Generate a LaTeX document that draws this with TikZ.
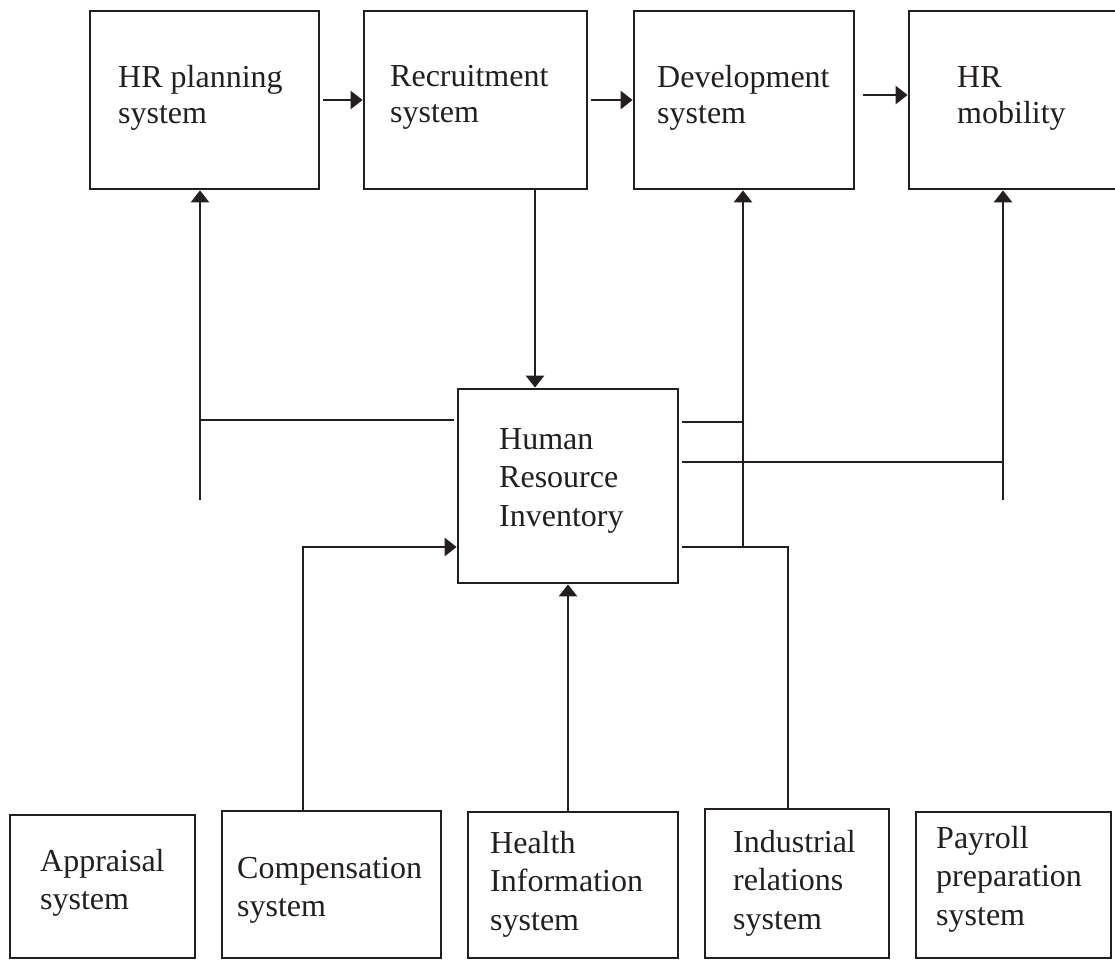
\documentclass[tikz,border=0pt]{standalone}
\usepackage{fontspec}
\setmainfont{Liberation Serif}
\usetikzlibrary{arrows.meta,calc}
\definecolor{ink}{RGB}{35,31,32}
\begin{document}
\begin{tikzpicture}[x=1pt,y=-1pt,
  box/.style={draw=ink, line width=2.8pt, inner sep=0pt},
  lbl/.style={anchor=north west, inner sep=0pt, align=left, font=\fontsize{32}{38.5}\selectfont, text=ink},
  toplbl/.style={lbl, font=\fontsize{32}{36}\selectfont},
  conn/.style={line width=2.8pt, draw=ink},
  arr/.style={conn, -{Triangle[length=12pt,width=18pt]}}]
\useasboundingbox (0,0) rectangle (1115,961);
\fill[white] (0,0) rectangle (1115,961);
% top boxes
\node[box, minimum width=229pt, minimum height=178pt] (b1) at (204.5,100) {};
\node[box, minimum width=223pt, minimum height=178pt] (b2) at (475.5,100) {};
\node[box, minimum width=220pt, minimum height=178pt] (b3) at (744,100) {};
\node[box, minimum width=216pt, minimum height=178pt] (b4) at (1017,100) {};
\node[toplbl] (t1) at (118,65) {HR planning\\system};
\node[toplbl] (t2) at (390,65) {Recruitment\\system};
\node[toplbl] (t3) at (657,65) {Development\\system};
\node[toplbl] (t4) at (957,66) {HR\\mobility};
% centre box
\node[box, minimum width=220pt, minimum height=194pt] (hri) at (568,486) {};
\node[lbl] (th) at (499,428) {Human\\Resource\\Inventory};
% bottom boxes
\node[box, minimum width=185pt, minimum height=143pt] (a) at (102.5,886.5) {};
\node[box, minimum width=219pt, minimum height=147pt] (c) at (331.5,884.5) {};
\node[box, minimum width=210pt, minimum height=146pt] (h) at (573,885) {};
\node[box, minimum width=184pt, minimum height=149pt] (i) at (797,883.5) {};
\node[box, minimum width=195pt, minimum height=146pt] (p) at (1013.5,885) {};
\node[lbl] (ta) at (40,849) {Appraisal\\system};
\node[lbl] (tc) at (237,857) {Compensation\\system};
\node[lbl] (tH) at (490,831) {Health\\Information\\system};
\node[lbl] (ti) at (733,830) {Industrial\\relations\\system};
\node[lbl] (tp) at (936,826) {Payroll\\preparation\\system};
% top arrows
\draw[arr] ([xshift=3pt]b1.east) -- (b2.west);
\draw[arr] ([xshift=3pt]b2.east) -- (b3.west);
\draw[arr] ([xshift=8pt,yshift=5pt]b3.east) -- ([yshift=5pt]b4.west);
% recruitment down
\coordinate (rx) at (535,0);
\draw[arr] (b2.south -| rx) -- (hri.north -| rx);
% left feedback
\coordinate (lA) at (200,420);
\coordinate (lB) at (200,500);
\draw[conn] ($(hri.west |- lA)+(-3,0)$) -- (lA);
\draw[arr] (lB) -- (b1.south -| lB);
% right side
\coordinate (r1) at (743,422);
\coordinate (r2) at (1003,462);
\coordinate (r3) at (743,547);
\coordinate (r4) at (788,547);
\coordinate (r5) at (1003,500);
\draw[conn] ($(hri.east |- r1)+(3,0)$) -- (r1);
\draw[conn] ($(hri.east |- r2)+(3,0)$) -- (r2);
\draw[conn] ($(hri.east |- r3)+(3,0)$) -- (r4) -- (i.north -| r4);
\draw[arr] (r3) -- (b3.south -| r3);
\draw[arr] (r5) -- (b4.south -| r5);
% bottom inputs
\coordinate (cx) at (303,547);
\draw[arr] (c.north -| cx) -- (cx) -- (hri.west |- cx);
\draw[arr] (h.north -| hri.south) -- (hri.south);
\end{tikzpicture}
\end{document}
